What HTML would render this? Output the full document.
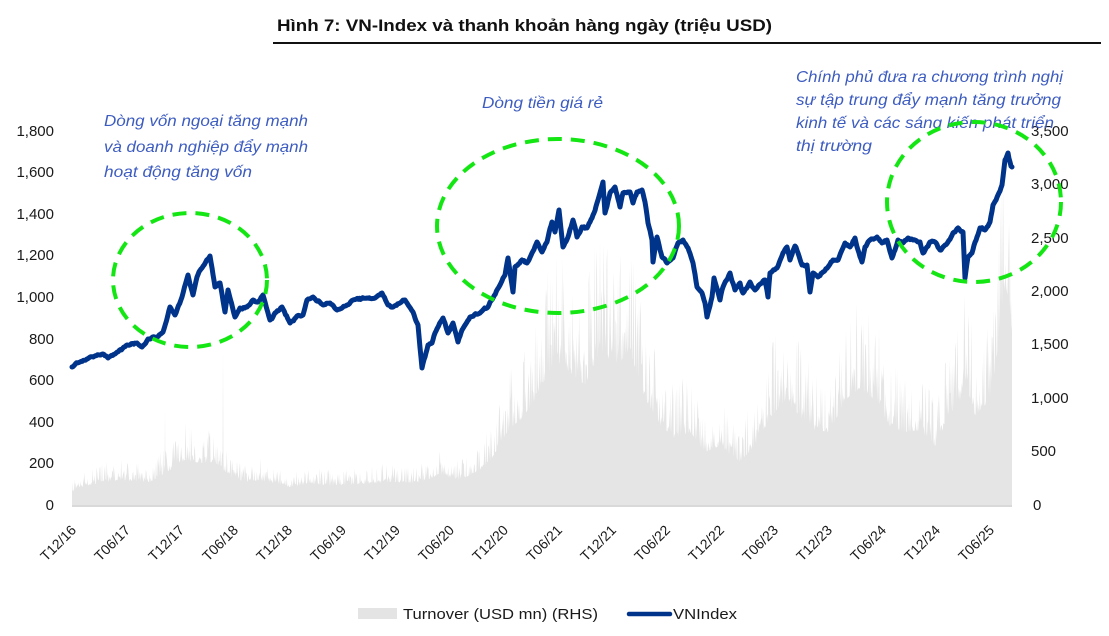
<!DOCTYPE html>
<html>
<head>
<meta charset="utf-8">
<style>
html,body{margin:0;padding:0;background:#fff;}
svg{display:block;}
text{font-family:"Liberation Sans","DejaVu Sans",sans-serif;}
</style>
</head>
<body>
<svg id="chart" width="1109" height="636" viewBox="0 0 1109 636" xmlns="http://www.w3.org/2000/svg">
<rect x="0" y="0" width="1109" height="636" fill="#fff"/>

<!-- Title -->
<text x="277" y="31" font-size="17" font-weight="bold" fill="#111" textLength="495" lengthAdjust="spacingAndGlyphs">Hình 7: VN-Index và thanh khoản hàng ngày (triệu USD)</text>
<line x1="273" y1="43" x2="1101" y2="43" stroke="#111" stroke-width="2"/>

<!-- turnover static fallback -->
<polygon id="turnBase" fill="#e5e5e5" points="72,506 72,492 85,486 100,483 120,480 150,482 170,470 185,460 200,463 215,462 230,476 245,482 260,480 290,487 310,483 330,486 360,484 390,482 420,483 440,474 460,480 480,470 490,462 500,445 510,428 520,420 530,408 540,390 555,360 570,372 585,385 600,352 615,366 630,352 645,398 660,425 675,438 690,432 705,452 720,446 740,462 755,446 770,418 785,400 800,416 815,430 830,432 845,400 860,388 875,400 890,426 905,432 920,430 935,446 950,414 960,400 965,380 975,415 990,400 1000,335 1005,280 1010,310 1012,330 1012,506"/>
<path id="turnSpikes" fill="#e5e5e5" d=""/>
<line x1="72" y1="506" x2="1012" y2="506" stroke="#d9d9d9" stroke-width="2"/>

<!-- left axis labels -->
<g font-size="15" fill="#1a1a1a" text-anchor="end">
<text x="54" y="510">0</text>
<text x="54" y="468">200</text>
<text x="54" y="427">400</text>
<text x="54" y="385">600</text>
<text x="54" y="344">800</text>
<text x="54" y="302">1,000</text>
<text x="54" y="260">1,200</text>
<text x="54" y="219">1,400</text>
<text x="54" y="177">1,600</text>
<text x="54" y="136">1,800</text>
</g>
<!-- right axis labels -->
<g font-size="15" fill="#1a1a1a" text-anchor="start">
<text x="1033" y="510">0</text>
<text x="1031" y="456">500</text>
<text x="1031" y="403">1,000</text>
<text x="1031" y="349">1,500</text>
<text x="1031" y="296">2,000</text>
<text x="1031" y="243">2,500</text>
<text x="1031" y="189">3,000</text>
<text x="1031" y="136">3,500</text>
</g>

<!-- x labels -->
<g font-size="14" fill="#1a1a1a" text-anchor="end">
<text transform="translate(77,531) rotate(-45)">T12/16</text>
<text transform="translate(131,531) rotate(-45)">T06/17</text>
<text transform="translate(185,531) rotate(-45)">T12/17</text>
<text transform="translate(239,531) rotate(-45)">T06/18</text>
<text transform="translate(293,531) rotate(-45)">T12/18</text>
<text transform="translate(347,531) rotate(-45)">T06/19</text>
<text transform="translate(401,531) rotate(-45)">T12/19</text>
<text transform="translate(455,531) rotate(-45)">T06/20</text>
<text transform="translate(509,531) rotate(-45)">T12/20</text>
<text transform="translate(563,531) rotate(-45)">T06/21</text>
<text transform="translate(617,531) rotate(-45)">T12/21</text>
<text transform="translate(671,531) rotate(-45)">T06/22</text>
<text transform="translate(725,531) rotate(-45)">T12/22</text>
<text transform="translate(779,531) rotate(-45)">T06/23</text>
<text transform="translate(833,531) rotate(-45)">T12/23</text>
<text transform="translate(887,531) rotate(-45)">T06/24</text>
<text transform="translate(941,531) rotate(-45)">T12/24</text>
<text transform="translate(995,531) rotate(-45)">T06/25</text>
</g>

<!-- VNIndex line -->
<polyline id="vnline" fill="none" stroke="#00338a" stroke-width="5" stroke-linejoin="round" stroke-linecap="round" points="72,367 80,362 90,357 103,354 108,358 115,354 127,345 137,343 142,347 148,339 157,337 163,332 170,307 175,315 182,297 188,275 193,295 197,277 202,268 210,256 215,287 220,283 225,312 228,290 235,317 240,308 247,307 253,300 258,302 263,295 270,320 275,313 282,307 290,323 297,316 303,315 307,300 313,297 323,305 330,303 337,310 347,305 353,300 367,298 375,298 382,293 388,305 393,307 400,303 405,300 413,312 418,325 422,368 425,357 428,345 432,343 435,333 443,318 448,333 453,323 458,342 462,330 470,317 480,313 488,307 493,298 500,285 505,275 508,258 513,292 515,267 522,260 527,263 532,253 537,242 542,252 547,242 552,222 555,232 559,210 563,247 568,237 573,220 577,237 582,227 587,228 592,218 597,203 603,182 605,213 610,193 615,187 620,207 623,193 630,192 633,203 637,192 642,190 645,202 648,223 652,240 653,262 657,237 662,257 667,263 673,258 678,243 683,240 688,248 693,263 697,287 702,293 705,303 707,317 712,297 714,278 720,300 723,287 730,273 735,290 740,283 743,293 750,282 755,290 762,283 765,280 768,297 770,273 777,268 783,253 787,247 790,260 795,246 798,253 802,265 807,265 810,292 813,273 818,277 823,272 828,267 833,260 838,260 845,243 850,247 855,238 858,250 862,262 865,247 870,240 877,237 882,243 887,240 892,258 895,250 898,240 903,243 908,238 913,240 920,242 923,253 927,247 930,242 935,242 940,250 943,247 948,242 953,233 958,228 963,232 965,278 968,257 972,253 977,237 980,228 985,230 990,222 993,205 998,195 1002,185 1005,160 1008,153 1010,162 1012,167"/>

<!-- annotations -->
<g font-size="16" font-style="italic" fill="#3d5cc0">
<text x="104" y="126" textLength="204" lengthAdjust="spacingAndGlyphs">Dòng vốn ngoại tăng mạnh</text>
<text x="104" y="152" textLength="204" lengthAdjust="spacingAndGlyphs">và doanh nghiệp đẩy mạnh</text>
<text x="104" y="177" textLength="148" lengthAdjust="spacingAndGlyphs">hoạt động tăng vốn</text>
<text x="482" y="108" textLength="121" lengthAdjust="spacingAndGlyphs">Dòng tiền giá rẻ</text>
<text x="796" y="82" textLength="267" lengthAdjust="spacingAndGlyphs">Chính phủ đưa ra chương trình nghị</text>
<text x="796" y="105" textLength="265" lengthAdjust="spacingAndGlyphs">sự tập trung đẩy mạnh tăng trưởng</text>
<text x="796" y="128" textLength="258" lengthAdjust="spacingAndGlyphs">kinh tế và các sáng kiến phát triển</text>
<text x="796" y="151" textLength="76" lengthAdjust="spacingAndGlyphs">thị trường</text>
</g>

<!-- dashed ellipses -->
<g fill="none" stroke="#14e614" stroke-width="4" stroke-dasharray="14 9">
<ellipse cx="190" cy="280" rx="77" ry="67"/>
<ellipse cx="558" cy="226" rx="121" ry="87"/>
<ellipse cx="974" cy="202" rx="87" ry="80"/>
</g>

<!-- legend -->
<rect x="358" y="608" width="39" height="11" fill="#e4e4e4"/>
<text x="403" y="619" font-size="15" fill="#1a1a1a" textLength="195" lengthAdjust="spacingAndGlyphs">Turnover (USD mn) (RHS)</text>
<line x1="629" y1="614" x2="670" y2="614" stroke="#00338a" stroke-width="4.5" stroke-linecap="round"/>
<text x="673" y="619" font-size="15" fill="#1a1a1a" textLength="64" lengthAdjust="spacingAndGlyphs">VNIndex</text>
</svg>
<script>
(function(){
  var s=12345;
  function r(){s|=0;s=s+0x6D2B79F5|0;var t=Math.imul(s^s>>>15,1|s);t=t+Math.imul(t^t>>>7,61|t)^t;return((t^t>>>14)>>>0)/4294967296;}
  var pts=[[72,492],[85,486],[100,483],[120,480],[150,482],[170,470],[185,460],[200,463],[215,462],[230,476],[245,482],[260,480],[290,487],[310,483],[330,486],[360,484],[390,482],[420,483],[440,474],[460,480],[480,470],[490,462],[500,445],[510,428],[520,420],[530,408],[540,390],[555,360],[570,372],[585,385],[600,352],[615,366],[630,352],[645,398],[660,425],[675,438],[690,432],[705,452],[720,446],[740,462],[755,446],[770,418],[785,400],[800,416],[815,430],[830,432],[845,400],[860,388],[875,400],[890,426],[905,432],[920,430],[935,446],[950,414],[960,400],[965,380],[975,415],[990,400],[1000,335],[1005,280],[1010,310],[1012,330]];
  function interp(P,x){
    for(var i=0;i<P.length-1;i++){
      if(x>=P[i][0]&&x<=P[i+1][0]){
        var t=(x-P[i][0])/((P[i+1][0]-P[i][0])||1);
        return P[i][1]+t*(P[i+1][1]-P[i][1]);
      }
    }
    return P[P.length-1][1];
  }
  var d="M72,506";
  for(var x=72;x<=1012;x+=0.6){
    var b=interp(pts,x);
    var h=506-b;
    var y=b - Math.pow(r(),3)*h*0.8 + (r()-0.5)*h*0.12;
    if(y>505)y=505;
    d+=" L"+x.toFixed(1)+","+y.toFixed(1);
  }
  d+=" L1012,506 Z";
  var sp=[[165,410],[223,350],[190,425],[965,340],[1003,230],[600,250]];
  for(var k=0;k<sp.length;k++){
    d+=" M"+(sp[k][0]-0.6)+",506 L"+sp[k][0]+","+sp[k][1]+" L"+(sp[k][0]+0.6)+",506 Z";
  }
  document.getElementById("turnSpikes").setAttribute("d",d);

  // add daily texture to VNIndex line
  var pl=document.getElementById("vnline");
  var raw=pl.getAttribute("points").trim().split(/\s+/).map(function(p){var a=p.split(",");return [parseFloat(a[0]),parseFloat(a[1])];});
  var out=[];var n=0;
  for(var i=0;i<raw.length-1;i++){
    var a=raw[i],b2=raw[i+1];
    var steps=Math.max(1,Math.round((b2[0]-a[0])/1.1));
    for(var j=0;j<steps;j++){
      var t=j/steps;
      var xx=a[0]+t*(b2[0]-a[0]);
      var yy=a[1]+t*(b2[1]-a[1]);
      n=n*0.6+(r()-0.5)*2.4;
      var fade=Math.min(t,1-t)*2; // keep traced extremes intact
      out.push(xx.toFixed(1)+","+(yy+n*fade).toFixed(1));
    }
  }
  out.push(raw[raw.length-1][0]+","+raw[raw.length-1][1]);
  pl.setAttribute("points",out.join(" "));
})();
</script>
</body>
</html>
